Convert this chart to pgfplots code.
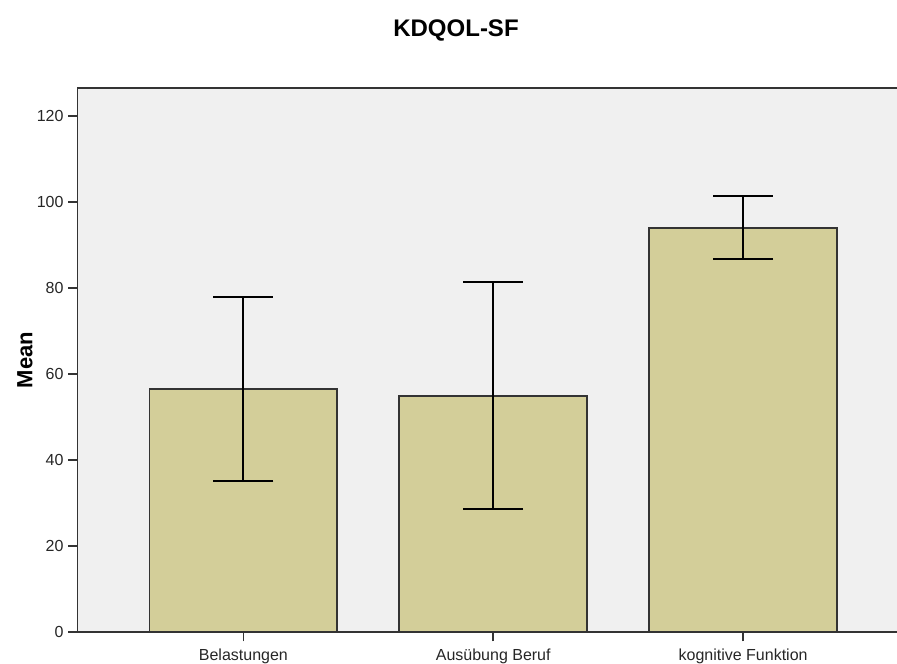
\documentclass[border=0pt]{standalone}
\usepackage{fontspec}
\setmainfont{Liberation Sans}
\setsansfont{Liberation Sans}
\usepackage{pgfplots}
\pgfplotsset{compat=1.18}
\definecolor{bgc}{HTML}{F0F0F0}
\definecolor{barc}{HTML}{D3CE99}
\definecolor{edgec}{HTML}{333333}
\begin{document}
\begin{tikzpicture}
\useasboundingbox (0pt,0pt) rectangle (672.75pt,498pt);
\begin{axis}[
  at={(58.125pt,24pt)}, anchor=south west,
  scale only axis,
  width=617.25pt, height=408pt,
  xmin=-0.664, xmax=2.63,
  ymin=0, ymax=126.5,
  axis background/.style={fill=bgc},
  axis line style={edgec, line width=1.3pt},
  tick pos=left,
  tick align=outside,
  major tick length=7pt,
  tick style={edgec, line width=1.3pt},
  ytick={0,20,40,60,80,100,120},
  xtick={0,1,2},
  xticklabels={Belastungen, Ausübung Beruf, kognitive Funktion},
  ticklabel style={font=\fontsize{12}{14}\selectfont, text=black!85},
  /pgf/number format/assume math mode=true,
  xticklabel style={yshift=-2.5pt},
  ybar,
  bar width=0.752,
  clip=false,
]
\addplot+[fill=barc, draw=edgec, line width=1.3pt,
  error bars/.cd, y dir=both, y explicit,
  error bar style={black, line width=1.5pt},
  error mark options={rotate=90, mark size=22.5pt, line width=1.5pt, black}]
  coordinates {
  (0,56.5) +- (0,21.3)
  (1,54.9) +- (0,26.4)
  (2,94.0) +- (0,7.35)
  };
\end{axis}
\node[font=\fontsize{18}{20}\selectfont\bfseries] at (342pt,475.5pt) {KDQOL-SF};
\node[font=\fontsize{16.5}{18}\selectfont\bfseries, rotate=90] at (18.75pt,228pt) {Mean};
\end{tikzpicture}
\end{document}
